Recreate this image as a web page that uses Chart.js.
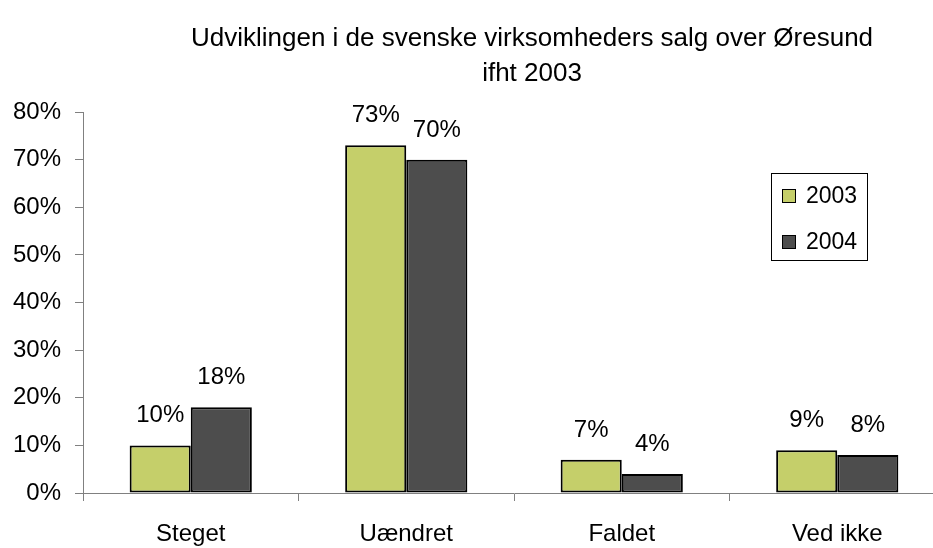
<!DOCTYPE html>
<html>
<head>
<meta charset="utf-8">
<script src="https://cdn.jsdelivr.net/npm/chart.js@4"></script>
<style>
  html, body { margin: 0; padding: 0; background: #fff; overflow: hidden; }
  #wrap { width: 945px; height: 548px; }
</style>
</head>
<body>
<div id="wrap"><canvas id="myChart"></canvas></div>
<script>
// data
const categories = ['Steget', 'Uændret', 'Faldet', 'Ved ikke'];
const series2003 = [10, 73, 7, 9];
const series2004 = [18, 70, 4, 8];
const seriesNames = ['2003', '2004'];
const titleLines = ['Udviklingen i de svenske virksomheders salg over Øresund', 'ifht 2003'];

const FONT = '"Liberation Sans", Arial, sans-serif';
const colors = ['#c5cf6a', '#4d4d4d'];

// title, value labels, legend
const extras = {
    id: 'extras',
    afterDatasetsDraw(chart) {
        const c = chart.ctx;
        c.save();
        c.fillStyle = '#000';
        c.font = '24px ' + FONT;
        c.textAlign = 'center';
        c.textBaseline = 'alphabetic';
        chart.data.datasets.forEach((ds, i) => {
            chart.getDatasetMeta(i).data.forEach((bar, j) => {
                c.fillText(ds.data[j] + '%', bar.x, bar.y - 23);
            });
        });
        // title
        c.font = '26px ' + FONT;
        c.fillText(titleLines[0], 532, 46);
        c.fillText(titleLines[1], 532, 81);
        // legend
        c.strokeStyle = '#000';
        c.lineWidth = 1;
        c.strokeRect(771.5, 173.5, 96, 87);
        c.textAlign = 'left';
        c.textBaseline = 'middle';
        c.font = '23px ' + FONT;
        seriesNames.forEach((name, i) => {
            const y = 196 + i * 46;
            c.fillStyle = colors[i];
            c.fillRect(782, y - 7, 13, 13);
            c.strokeRect(782.5, y - 6.5, 13, 13);
            c.fillStyle = '#000';
            c.fillText(name, 806, y + 1);
        });
        c.restore();
    }
};

const config = {
    type: 'bar',
    data: {
        labels: categories,
        datasets: [
            { label: seriesNames[0], data: series2003, backgroundColor: colors[0], borderColor: '#000', borderWidth: 2, borderSkipped: false },
            { label: seriesNames[1], data: series2004, backgroundColor: colors[1], borderColor: '#000', borderWidth: 2, borderSkipped: false }
        ]
    },
    options: {
        responsive: true,
        maintainAspectRatio: false,
        animation: false,
        layout: { padding: { top: 112, right: 0, left: 0, bottom: 0 } },
        datasets: { bar: { categoryPercentage: 0.567, barPercentage: 1.0 } },
        scales: {
            x: {
                grid: { drawOnChartArea: false, drawTicks: true, tickLength: 8, color: '#808080', offset: true },
                border: { color: '#808080', width: 1 },
                ticks: { color: '#000', font: { family: FONT, size: 24 }, padding: 19 },
                afterFit(s) { s.height = 55; }
            },
            y: {
                min: 0,
                max: 80,
                grid: { drawOnChartArea: false, drawTicks: true, tickLength: 8, color: '#808080' },
                border: { color: '#808080', width: 1 },
                ticks: { stepSize: 10, color: '#000', font: { family: FONT, size: 24 }, padding: 14,
                    callback: v => v + '%' },
                afterFit(s) { s.width = 83; }
            }
        },
        plugins: {
            legend: { display: false },
            title: { display: false },
            tooltip: { enabled: false }
        }
    },
    plugins: [extras]
};

const myChart = new Chart(document.getElementById('myChart'), config);
</script>
</body>
</html>
